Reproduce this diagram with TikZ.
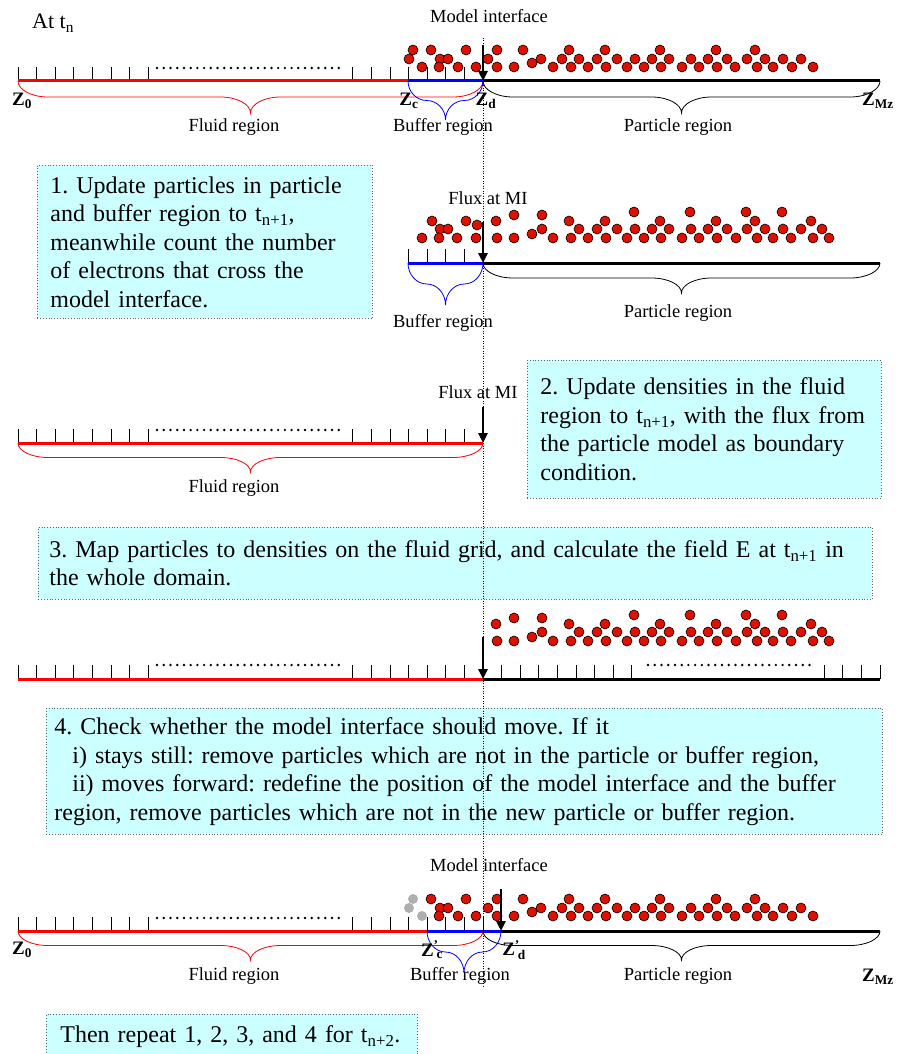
\documentclass[tikz,border=0pt]{standalone}
\usepackage{fontspec}
\setmainfont{Liberation Serif}
\usetikzlibrary{arrows.meta}
\frenchspacing
\definecolor{boxcyan}{RGB}{204,255,255}
\definecolor{boxedge}{RGB}{100,100,100}
\definecolor{partred}{RGB}{221,17,0}
\definecolor{ghostgrey}{RGB}{175,175,175}
\def\particlesA{431/50,440/59,448/59,439/67,466/50,458/67,476/67,488/59,497/50,497/67,514/67,523/50,532/63,541/59,553/67,562/59,569/50,571/67,579/59,588/67,597/59,605/50,606/67,617/59,627/67,635/59,644/67,652/59,660/50,661/67,669/59,682/67,691/59,699/67,708/59,716/50,717/67,727/59,735/67,747/59,755/50,757/67,765/59,773/67,783/59,792/67,801/59,813/67}
\def\leftoversA{413/50,409/59,422/67}
\def\particlesB{432/221,422/238,440/229,448/229,439/238,457/238,466/221,477/225,476/238,496/221,497/238,514/215,514/238,532/234,542/215,542/229,553/238,569/221,571/238,579/229,588/238,597/229,605/221,606/238,617/229,627/238,634/212,635/229,644/238,652/229,660/221,661/238,669/229,682/238,690/212,691/229,699/238,708/229,716/221,717/238,727/229,736/238,746/212,747/229,755/221,757/238,765/229,773/238,782/212,783/229,791/238,801/229,811/221,813/238,822/229,829/238}
\newcommand{\regionbrace}[5]{%
  \pgfmathsetmacro{\brHalf}{#5/2}%
  \pgfmathsetmacro{\brMid}{(#2+#3)/2}%
  \pgfmathsetmacro{\brRad}{min(30,(#3-#2)/4)}%
  \draw[#1, line width=0.8pt] (#2,#4)
    .. controls (#2,{#4+0.55*\brHalf}) and ({#2+0.45*\brRad},{#4+\brHalf}) .. ({#2+\brRad},{#4+\brHalf})
    -- ({\brMid-\brRad},{#4+\brHalf})
    .. controls ({\brMid-0.45*\brRad},{#4+\brHalf}) and (\brMid,{#4+1.45*\brHalf}) .. (\brMid,{#4+2*\brHalf})
    .. controls (\brMid,{#4+1.45*\brHalf}) and ({\brMid+0.45*\brRad},{#4+\brHalf}) .. ({\brMid+\brRad},{#4+\brHalf})
    -- ({#3-\brRad},{#4+\brHalf})
    .. controls ({#3-0.45*\brRad},{#4+\brHalf}) and (#3,{#4+0.55*\brHalf}) .. (#3,#4);
}
\begin{document}
\begin{tikzpicture}[x=1pt, y=-1pt,
    gridtick/.style={line width=0.9pt},
    fluidaxis/.style={red, line width=3pt},
    bufferaxis/.style={blue, line width=3pt},
    particleaxis/.style={black, line width=3pt},
    gridgap/.style={line width=2.7pt, dash pattern=on 0pt off 6.73pt, line cap=round},
    particle/.style={fill=partred, draw=black, line width=0.6pt},
    leftover/.style={fill=ghostgrey},
    miarrow/.style={line width=2.6pt, -{Triangle[width=9pt,length=10pt]}},
    miline/.style={line width=0.5pt, dotted},
    regionlabel/.style={inner sep=0pt, font=\fontsize{18.5}{22}\selectfont},
    zlabel/.style={inner sep=0pt, font=\bfseries\fontsize{19}{22}\selectfont},
    stepbox/.style={draw=boxedge, dotted, line width=0.8pt, fill=boxcyan, anchor=north west,
      align=left, inner ysep=0pt, font=\fontsize{24}{28.5}\selectfont}]
  \useasboundingbox (0,0) rectangle (898,1054);

  % at t_n
  \node[anchor=base west, inner sep=0pt, font=\fontsize{22}{26}\selectfont] (attn) at (32,29) {At t\textsubscript{n}};
  \node[regionlabel] (mi1lab) at (489,16) {Model interface};
  \coordinate (z0a) at (18,81);
  \coordinate (zca) at (408,81);
  \coordinate (zda) at (483,81);
  \coordinate (zmza) at (880,81);
  \coordinate (mi1top) at (483,45);
  \foreach \px/\py in \leftoversA {\draw[particle] (\px,\py) circle (5pt);}
  \foreach \px/\py in \particlesA {\draw[particle] (\px,\py) circle (5pt);}
  \foreach \tx in {0,...,7} \draw[gridtick] ({18+18.6*\tx},81) -- ++(0,-14);
  \foreach \tx in {1,...,7} \draw[gridtick] ({483-18.6*\tx},81) -- ++(0,-14);
  \draw[gridgap] (157,68) -- (339,68);
  \draw[fluidaxis] (z0a) -- (zca);
  \draw[bufferaxis] (zca) -- (zda);
  \draw[particleaxis] (zda) -- (zmza);
  \draw[miarrow] (mi1top) -- (zda);
  \regionbrace{red}{18}{483}{81}{32}
  \regionbrace{blue}{408}{483}{81}{39}
  \regionbrace{black}{483}{880}{81}{32}
  \node[zlabel] (z0lab) at (22,101) {Z\textsubscript{0}};
  \node[zlabel] (zclab) at (409,101) {Z\textsubscript{c}};
  \node[zlabel] (zdlab) at (486,101) {Z\textsubscript{d}};
  \node[zlabel] (zmzlab) at (878,101) {Z\textsubscript{Mz}};
  \node[regionlabel] (fluid1) at (234,127) {Fluid region};
  \node[regionlabel] (buffer1) at (443,127) {Buffer region};
  \node[regionlabel] (particle1) at (678,127) {Particle region};

  % step 1
  \node[stepbox, minimum width=335pt, minimum height=153pt, text width=309pt, inner xsep=13pt] (step1) at (37,165)
    {1. Update particles in particle\\and buffer region to t\textsubscript{n+1},\\meanwhile count the number\\of electrons that cross the\\model interface.};
  \node[regionlabel] (flux2lab) at (488,198) {Flux at MI};
  \coordinate (zcb) at (408,263);
  \coordinate (zdb) at (483,263);
  \coordinate (zmzb) at (880,263);
  \coordinate (mi2top) at (483,222);
  \foreach \px/\py in \particlesB {\draw[particle] (\px,\py) circle (5pt);}
  \foreach \tx in {1,...,4} \draw[gridtick] ({483-18.6*\tx},263) -- ++(0,-14);
  \draw[bufferaxis] (zcb) -- (zdb);
  \draw[particleaxis] (zdb) -- (zmzb);
  \draw[miarrow] (mi2top) -- (zdb);
  \regionbrace{blue}{408}{483}{263}{42}
  \regionbrace{black}{483}{880}{263}{30}
  \node[regionlabel] (buffer2) at (443,323) {Buffer region};
  \node[regionlabel] (particle2) at (678,313) {Particle region};

  % step 2
  \node[stepbox, minimum width=354pt, minimum height=138pt, text width=328pt, inner xsep=13pt] (step2) at (527,360)
    {2. Update densities in the fluid\\region to t\textsubscript{n+1}, with the flux from\\the particle model as boundary\\condition.};
  \node[regionlabel] (flux3lab) at (478,392) {Flux at MI};
  \coordinate (z0c) at (18,443);
  \coordinate (zdc) at (483,443);
  \coordinate (mi3top) at (483,407);
  \foreach \tx in {0,...,7} \draw[gridtick] ({18+18.6*\tx},443) -- ++(0,-14);
  \foreach \tx in {1,...,7} \draw[gridtick] ({483-18.6*\tx},443) -- ++(0,-14);
  \draw[gridgap] (157,430) -- (339,430);
  \draw[fluidaxis] (z0c) -- (zdc);
  \draw[miarrow] (mi3top) -- (zdc);
  \regionbrace{red}{18}{483}{443}{29}
  \node[regionlabel] (fluid3) at (234,488) {Fluid region};

  % step 3
  \node[stepbox, minimum width=834pt, minimum height=72pt, text width=812pt, inner xsep=11pt] (step3) at (38,527)
    {3. Map particles to densities on the fluid grid, and calculate the field E at t\textsubscript{n+1} in\\the whole domain.};
  \coordinate (z0d) at (18,679);
  \coordinate (zdd) at (483,679);
  \coordinate (zmzd) at (880,679);
  \coordinate (mi4top) at (483,637);
  \foreach \px/\py in \particlesB {\ifdim \px pt>483pt \draw[particle] (\px,{\py+403}) circle (5pt); \fi}
  \foreach \tx in {0,...,7} \draw[gridtick] ({18+18.6*\tx},679) -- ++(0,-14);
  \foreach \tx in {1,...,7} \draw[gridtick] ({483-18.6*\tx},679) -- ++(0,-14);
  \foreach \tx in {1,...,8} \draw[gridtick] ({483+18.6*\tx},679) -- ++(0,-14);
  \foreach \tx in {0,...,3} \draw[gridtick] ({880-18.6*\tx},679) -- ++(0,-14);
  \draw[gridgap] (157,665) -- (339,665);
  \draw[gridgap] (648,665) -- (812.5,665);
  \draw[fluidaxis] (z0d) -- (zdd);
  \draw[particleaxis] (zdd) -- (zmzd);
  \draw[miarrow] (mi4top) -- (zdd);

  % step 4
  \node[stepbox, minimum width=836pt, minimum height=126pt, text width=820pt, inner xsep=8pt] (step4) at (46,708)
    {4. Check whether the model interface should move. If it\\\hspace*{18pt}i) stays still: remove particles which are not in the particle or buffer region,\\\hspace*{18pt}ii) moves forward: redefine the position of the model interface and the buffer\\region, remove particles which are not in the new particle or buffer region.};
  \node[regionlabel] (mi5lab) at (489,865) {Model interface};
  \coordinate (z0e) at (18,931);
  \coordinate (zce) at (427,931);
  \coordinate (zde) at (501,931);
  \coordinate (zmze) at (880,931);
  \coordinate (mi5top) at (501,889);
  \foreach \px/\py in \leftoversA {\fill[leftover] (\px,{\py+849}) circle (5pt);}
  \foreach \px/\py in \particlesA {\draw[particle] (\px,{\py+849}) circle (5pt);}
  \foreach \tx in {0,...,7} \draw[gridtick] ({18+18.6*\tx},931) -- ++(0,-14);
  \foreach \tx in {0,...,7} \draw[gridtick] ({483-18.6*\tx},931) -- ++(0,-14);
  \draw[gridgap] (157,918) -- (339,918);
  \draw[fluidaxis] (z0e) -- (zce);
  \draw[bufferaxis] (zce) -- (zde);
  \draw[particleaxis] (zde) -- (zmze);
  \draw[miarrow] (mi5top) -- (zde);
  \regionbrace{red}{18}{483}{931}{29}
  \regionbrace{blue}{427}{501}{931}{42}
  \regionbrace{black}{483}{880}{931}{29}
  \node[zlabel] (z0lab2) at (22,950) {Z\textsubscript{0}};
  \node[zlabel] (zclab2) at (432,950) {Z\textsuperscript{’}\kern-2pt\textsubscript{c}};
  \node[zlabel] (zdlab2) at (514,950) {Z\textsuperscript{’}\kern-2pt\textsubscript{d}};
  \node[zlabel] (zmzlab2) at (878,977) {Z\textsubscript{Mz}};
  \node[regionlabel] (fluid5) at (234,976) {Fluid region};
  \node[regionlabel] (buffer5) at (460,976) {Buffer region};
  \node[regionlabel] (particle5) at (678,976) {Particle region};

  % repeat
  \node[stepbox, minimum width=371pt, minimum height=44pt, text width=343pt, inner xsep=14pt] (step5) at (46,1014)
    {Then repeat 1, 2, 3, and 4 for t\textsubscript{n+2}.};

  \coordinate (mitop) at (483,38);
  \coordinate (mibot) at (483,988);
  \draw[miline] (mitop) -- (mibot);
\end{tikzpicture}
\end{document}
